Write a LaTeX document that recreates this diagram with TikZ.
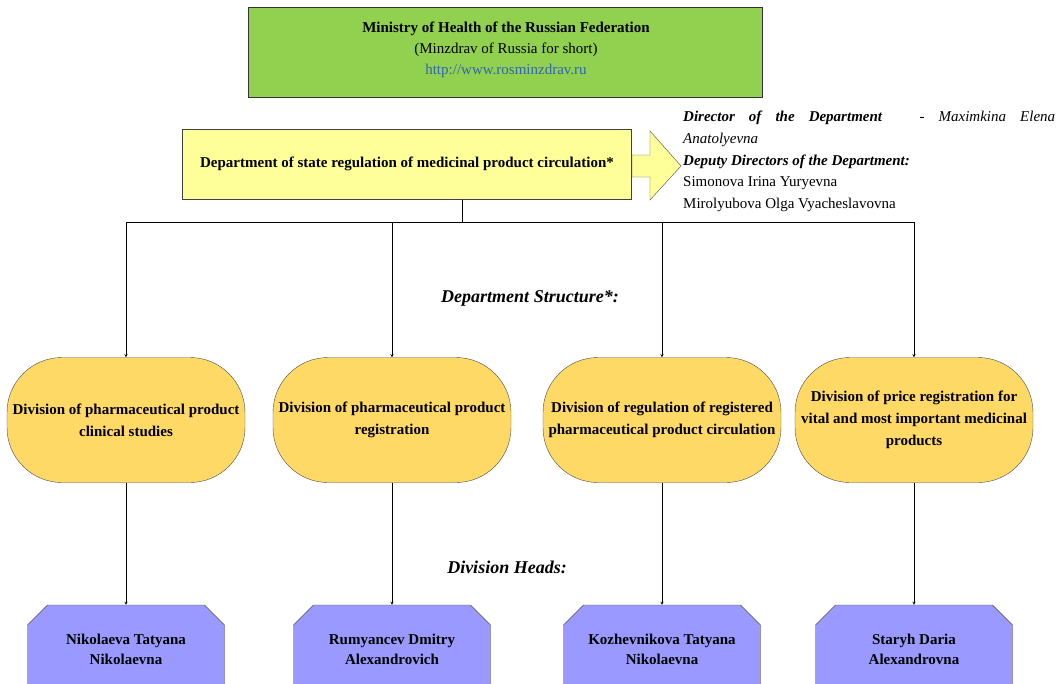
\documentclass[tikz,border=0pt]{standalone}
\usepackage{fontspec}
\setmainfont{Liberation Serif}
\usetikzlibrary{shapes.misc}
\definecolor{ministrygreen}{RGB}{146,208,80}
\definecolor{deptyellow}{RGB}{255,255,153}
\definecolor{divgold}{RGB}{255,217,102}
\definecolor{headblue}{RGB}{153,153,255}
\definecolor{linkblue}{RGB}{50,100,175}

\begin{document}
\begin{tikzpicture}[x=1pt,y=-1pt,>=stealth,font=\fontsize{15}{21}\selectfont]
        \tikzstyle{ministry}=[rectangle,draw=black!80,line width=1pt,fill=ministrygreen,minimum width=514pt,minimum height=90pt,inner sep=0pt]
        \tikzstyle{department}=[rectangle,draw=black!75,line width=1pt,fill=deptyellow,minimum width=449pt,minimum height=70pt,font=\fontsize{15}{21}\selectfont\bfseries]
        \tikzstyle{division}=[rectangle,rounded corners=55pt,draw=black!70,fill=divgold,minimum width=238pt,minimum height=125pt,align=center,inner sep=0pt,font=\fontsize{15}{22}\selectfont\bfseries]
        \tikzstyle{head}=[chamfered rectangle,chamfered rectangle corners={north west,north east},chamfered rectangle xsep=10pt,chamfered rectangle ysep=10pt,draw=black!70,fill=headblue,minimum width=197pt,minimum height=88pt,align=center,inner sep=0pt,font=\fontsize{15}{20}\selectfont\bfseries]
        \tikzstyle{caption}=[font=\fontsize{18}{22}\selectfont\bfseries\itshape]
        \useasboundingbox (0,0) rectangle (1060,683);
        \clip (0,0) rectangle (1060,683);

                \node[ministry] (M) at (505,52) {};
                \node[align=center] (M-text) at (506,50) {\textbf{Ministry of Health of the Russian Federation}\\(Minzdrav of Russia for short)\\\textcolor{linkblue}{http://www.rosminzdrav.ru}};

                \node[department] (dept) at (407,164) {Department of state regulation of medicinal product circulation*};
                \draw[draw=black!70,fill=deptyellow] (632,155) -- (650,155) -- (650,131) -- (681,166) -- (650,200) -- (650,177) -- (632,177) -- cycle;
                \node[anchor=north west,inner sep=0pt,text width=372pt,align=justify,font=\fontsize{15}{21.7}\selectfont] (staff) at (683,111)
                        {\textit{\textbf{Director of the Department}\hspace{2.5em}- Maximkina Elena\linebreak Anatolyevna}\\
                         \textit{\textbf{Deputy Directors of the Department:}}\\
                         Simonova Irina Yuryevna\\
                         Mirolyubova Olga Vyacheslavovna};

                \node[caption] (structure) at (530,298) {Department Structure*:};
                \node[caption] (heads) at (507,567) {Division Heads:};

                \foreach \num/\x/\txt in {1/126/{Division of pharmaceutical product\\clinical studies},
                                           2/392/{Division of pharmaceutical product\\registration},
                                           3/662/{Division of regulation of registered\\pharmaceutical product circulation},
                                           4/914/{Division of price registration for\\vital and most important medicinal\\products}}
                        \node[division] (D-\num) at (\x,420) {\txt};

                \foreach \num/\x/\txt in {1/126/{Nikolaeva Tatyana\\Nikolaevna},
                                           2/392/{Rumyancev Dmitry\\Alexandrovich},
                                           3/662/{Kozhevnikova Tatyana\\Nikolaevna},
                                           4/914/{Staryh Daria\\Alexandrovna}}
                        \node[head] (H-\num) at (\x,649) {\txt};

                \coordinate (bus) at (462,222);
                \draw (bus |- dept.south) -- (bus);
                \foreach \num in {1,...,4}
                        \draw[->] (bus) -| (D-\num.north);
                \foreach \num in {1,...,4}
                        \draw[->] (D-\num.south) -- (H-\num.north);

\end{tikzpicture}
\end{document}
